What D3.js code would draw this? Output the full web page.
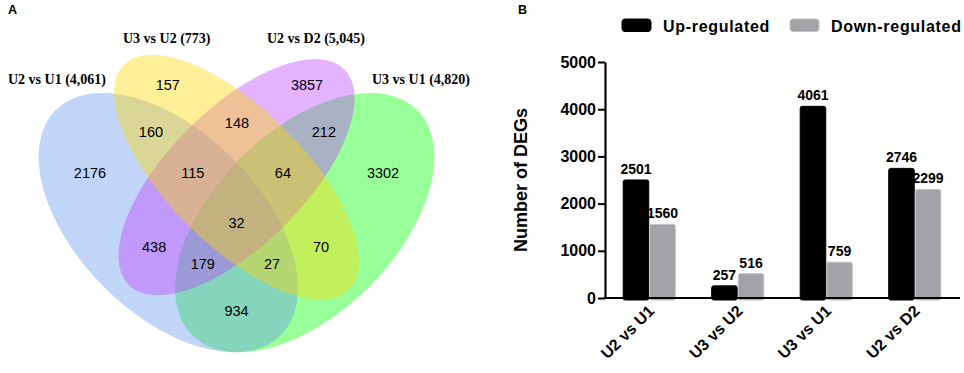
<!DOCTYPE html>
<html>
<head>
<meta charset="utf-8">
<script src="https://cdn.jsdelivr.net/npm/d3@7"></script>
<style>
  html, body { margin: 0; padding: 0; background: #fff; }
  svg { display: block; }
</style>
</head>
<body>
<script>
// ---------- DATA ----------
// Panel A: Venn diagram
const setNames = ["U2 vs U1 (4,061)", "U3 vs U2 (773)", "U2 vs D2 (5,045)", "U3 vs U1 (4,820)"];
const regionKeys = ["A", "B", "C", "D", "AB", "BC", "CD", "AD", "AC", "BD", "ABC", "BCD", "ACD", "ABD", "ABCD"];
const regionCounts = [2176, 157, 3857, 3302, 160, 148, 212, 934, 438, 70, 115, 64, 179, 27, 32];

// Panel B: grouped bars
const categories = ["U2 vs U1", "U3 vs U2", "U3 vs U1", "U2 vs D2"];
const seriesNames = ["Up-regulated", "Down-regulated"];
const upRegulated = [2501, 257, 4061, 2746];
const downRegulated = [1560, 516, 759, 2299];
const yTicks = [0, 1000, 2000, 3000, 4000, 5000];

// ---------- LAYOUT ----------
const W = 964, H = 373;
const svg = d3.select("body").append("svg").attr("width", W).attr("height", H);
svg.append("rect").attr("width", W).attr("height", H).attr("fill", "#fff");

// Venn geometry in unit coordinates
const vs = 455, vcx = 236.5, vcy = 209;
const xV = d3.scaleLinear().domain([0, 1]).range([vcx - vs / 2, vcx + vs / 2]);
const yV = d3.scaleLinear().domain([0, 1]).range([vcy + vs / 2, vcy - vs / 2]);
const rV = d3.scaleLinear().domain([0, 1]).range([0, vs]);

// drawing order: green (D), blue (A), purple (C), yellow (B)
const ellipses = [
  { set: 3, x: 0.65, y: 0.47, a: 0.35, b: 0.20, rot: -45, color: "#00ff00" },
  { set: 0, x: 0.35, y: 0.47, a: 0.35, b: 0.20, rot: 45, color: "#6495ed" },
  { set: 2, x: 0.50, y: 0.57, a: 0.335, b: 0.15, rot: -45, color: "#bf3eff" },
  { set: 1, x: 0.50, y: 0.57, a: 0.35, b: 0.15, rot: 45, color: "#ffd700" }
];
const regionPos = {
  A: [0.178, 0.579], B: [0.349, 0.773], C: [0.655, 0.773], D: [0.822, 0.579],
  AB: [0.312, 0.669], BC: [0.501, 0.689], CD: [0.692, 0.669], AD: [0.5, 0.276],
  AC: [0.319, 0.416], BD: [0.686, 0.416], ABC: [0.404, 0.579], BCD: [0.602, 0.579],
  ACD: [0.426, 0.379], ABD: [0.578, 0.379], ABCD: [0.5, 0.469]
};
const setTitlePos = [
  { x: 8, y: 84, anchor: "start" },
  { x: 123, y: 43, anchor: "start" },
  { x: 267, y: 43, anchor: "start" },
  { x: 372, y: 84, anchor: "start" }
];

const gA = svg.append("g");
gA.selectAll("ellipse").data(ellipses).join("ellipse")
  .attr("cx", d => xV(d.x)).attr("cy", d => yV(d.y))
  .attr("rx", d => rV(d.a)).attr("ry", d => rV(d.b))
  .attr("transform", d => `rotate(${d.rot},${xV(d.x)},${yV(d.y)})`)
  .attr("fill", d => d.color).attr("fill-opacity", 0.4).attr("stroke", "none");

gA.selectAll("text.count").data(regionKeys.map((k, i) => ({ k, v: regionCounts[i] })))
  .join("text").attr("class", "count")
  .attr("x", d => xV(regionPos[d.k][0])).attr("y", d => yV(regionPos[d.k][1]))
  .attr("dy", "0.36em").attr("text-anchor", "middle")
  .attr("font-family", "Liberation Sans, Arial, sans-serif").attr("font-size", 14.5)
  .attr("fill", "#000").text(d => d.v);

gA.selectAll("text.set").data(setNames).join("text").attr("class", "set")
  .attr("x", (d, i) => setTitlePos[i].x).attr("y", (d, i) => setTitlePos[i].y)
  .attr("text-anchor", (d, i) => setTitlePos[i].anchor)
  .attr("font-family", "Liberation Serif, Times New Roman, serif").attr("font-weight", "bold")
  .attr("font-size", 14).attr("fill", "#000").text(d => d);

svg.append("text").attr("x", 8).attr("y", 14).attr("font-family", "Liberation Sans, Arial, sans-serif")
  .attr("font-weight", "bold").attr("font-size", 12.5).text("A");
svg.append("text").attr("x", 518).attr("y", 14).attr("font-family", "Liberation Sans, Arial, sans-serif")
  .attr("font-weight", "bold").attr("font-size", 12.5).text("B");

// ---------- Panel B ----------
const m = { left: 605, right: 959, top: 62, bottom: 298 };
const x0 = d3.scaleBand().domain(categories).range([m.left, m.right]).paddingInner(0.4).paddingOuter(0.2);
const x1 = d3.scaleBand().domain(seriesNames).range([0, x0.bandwidth()]);
const y = d3.scaleLinear().domain([0, 5000]).range([m.bottom, m.top]);
const colors = { "Up-regulated": "#000000", "Down-regulated": "#a2a2a7" };
const strokes = { "Up-regulated": "#000000", "Down-regulated": "#c4c4c8" };
const font = "Liberation Sans, Arial, Helvetica, sans-serif";

const gB = svg.append("g");
const rows = categories.map((c, i) => ({ c, vals: [
  { s: seriesNames[0], v: upRegulated[i] }, { s: seriesNames[1], v: downRegulated[i] }] }));

const grp = gB.selectAll("g.grp").data(rows).join("g").attr("class", "grp")
  .attr("transform", d => `translate(${x0(d.c)},0)`);
grp.selectAll("rect").data(d => d.vals).join("rect")
  .attr("x", d => x1(d.s) + 0.5).attr("width", x1.bandwidth() - 1)
  .attr("y", d => y(d.v)).attr("height", d => y(0) - y(d.v) + 2)
  .attr("rx", 2).attr("fill", d => colors[d.s]).attr("stroke", d => strokes[d.s]).attr("stroke-width", 1);
grp.selectAll("text").data(d => d.vals).join("text")
  .attr("x", d => x1(d.s) + x1.bandwidth() / 2).attr("y", d => y(d.v) - 6)
  .attr("text-anchor", "middle").attr("font-family", font).attr("font-weight", "bold")
  .attr("font-size", 14).attr("fill", "#000").text(d => d.v);

// y axis
const yAxis = gB.append("g").attr("transform", `translate(${m.left},0)`)
  .call(d3.axisLeft(y).tickValues(yTicks).tickSize(7).tickSizeOuter(0).tickPadding(2).tickFormat(d3.format("d")));
yAxis.select(".domain").attr("stroke", "#000").attr("stroke-width", 2.2);
yAxis.selectAll(".tick line").attr("stroke", "#000").attr("stroke-width", 2);
yAxis.selectAll(".tick text").attr("font-family", font).attr("font-weight", "bold").attr("font-size", 16).attr("fill", "#000");

// x axis line
const xAxis = gB.append("g").attr("transform", `translate(0,${m.bottom})`)
  .call(d3.axisBottom(x0).tickSize(0).tickSizeOuter(0).tickPadding(0));
xAxis.select(".domain").attr("stroke", "#000").attr("stroke-width", 2.2)
  .attr("d", `M${m.left - 1},0H${m.right + 1}`);
xAxis.selectAll(".tick text")
  .attr("font-family", font).attr("font-weight", "bold").attr("font-size", 16).attr("fill", "#000")
  .attr("text-anchor", "end").attr("dy", 0)
  .attr("transform", "translate(6,14) rotate(-45)");

// y title
gB.append("text").attr("transform", `translate(527,${(m.top + m.bottom) / 2}) rotate(-90)`)
  .attr("text-anchor", "middle").attr("font-family", font).attr("font-weight", "bold")
  .attr("font-size", 18).attr("fill", "#000").text("Number of DEGs");

// legend
const leg = [{ s: seriesNames[0], x: 622, tx: 663 }, { s: seriesNames[1], x: 790, tx: 831 }];
const lg = gB.selectAll("g.leg").data(leg).join("g").attr("class", "leg");
lg.append("rect").attr("x", d => d.x).attr("y", 19).attr("width", 29).attr("height", 12.5).attr("rx", 3)
  .attr("fill", d => colors[d.s]).attr("stroke", d => strokes[d.s]);
lg.append("text").attr("x", d => d.tx).attr("y", 31.5).attr("font-family", font).attr("font-weight", "bold")
  .attr("font-size", 16).attr("letter-spacing", 0.7).attr("fill", "#000").text(d => d.s);
</script>
</body>
</html>
